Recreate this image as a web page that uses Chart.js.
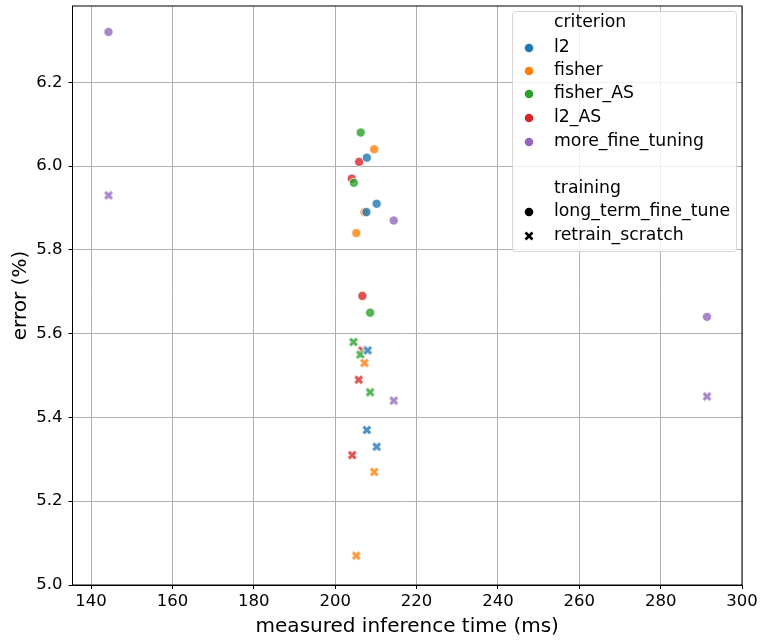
<!DOCTYPE html>
<html><head><meta charset="utf-8">
<script src="https://cdn.jsdelivr.net/npm/chart.js@4/dist/chart.umd.min.js"></script>
<style>html,body{margin:0;padding:0;background:#fff}#wrap{width:761px;height:640px}</style>
</head><body><div id="wrap"><canvas id="c" width="761" height="640"></canvas></div>
<script>
// criterion / training groups
const criteria = ['l2', 'fisher', 'fisher_AS', 'l2_AS', 'more_fine_tuning'];
const trainings = ['long_term_fine_tune', 'retrain_scratch'];
const palette = ['#1f77b4', '#ff7f0e', '#2ca02c', '#d62728', '#9467bd'];

// measured inference time (ms) and error (%), long-term fine-tune
const l2FineTime = [207.8, 210.2, 207.7];
const l2FineErr = [6.02, 5.91, 5.89];
const fisherFineTime = [209.6, 207.2, 205.2];
const fisherFineErr = [6.04, 5.89, 5.84];
const fisherASFineTime = [206.3, 204.6, 208.6];
const fisherASFineErr = [6.08, 5.96, 5.65];
const l2ASFineTime = [205.9, 204.1, 206.7];
const l2ASFineErr = [6.01, 5.97, 5.69];
const moreFineTime = [144.3, 214.4, 291.4];
const moreFineErr = [6.32, 5.87, 5.64];

// retrain from scratch
const l2ScratchTime = [208.0, 207.8, 210.2];
const l2ScratchErr = [5.56, 5.37, 5.33];
const fisherScratchTime = [207.2, 209.6, 205.2];
const fisherScratchErr = [5.53, 5.27, 5.07];
const fisherASScratchTime = [204.5, 206.2, 208.6];
const fisherASScratchErr = [5.58, 5.55, 5.46];
const l2ASScratchTime = [206.7, 205.8, 204.2];
const l2ASScratchErr = [5.56, 5.49, 5.31];
const moreScratchTime = [144.3, 214.4, 291.4];
const moreScratchErr = [5.93, 5.44, 5.45];

// axis ticks
const xTicks = [140, 160, 180, 200, 220, 240, 260, 280, 300];
const yTicks = [5.0, 5.2, 5.4, 5.6, 5.8, 6.0, 6.2];

const FONT = 'DejaVu Sans';
const ALPHA = 0.8;

function rgba(hex, a) {
  const n = parseInt(hex.slice(1), 16);
  return `rgba(${(n >> 16) & 255},${(n >> 8) & 255},${n & 255},${a})`;
}
function pts(xs, ys) { return xs.map((x, i) => ({ x: x, y: ys[i] })); }

// filled "X" marker with a white edge
function xMarker(color, size) {
  const c = document.createElement('canvas');
  const s = size + 4;
  c.width = s; c.height = s;
  const g = c.getContext('2d');
  const a = 2, b = s - 2;
  g.lineCap = 'butt';
  g.strokeStyle = '#fff'; g.lineWidth = 4.4;
  g.beginPath(); g.moveTo(a, a); g.lineTo(b, b); g.moveTo(b, a); g.lineTo(a, b); g.stroke();
  g.strokeStyle = color; g.lineWidth = 2.9;
  g.beginPath(); g.moveTo(a + 0.6, a + 0.6); g.lineTo(b - 0.6, b - 0.6); g.moveTo(b - 0.6, a + 0.6); g.lineTo(a + 0.6, b - 0.6); g.stroke();
  return c;
}

const fineSeries = [
  [l2FineTime, l2FineErr], [fisherFineTime, fisherFineErr], [fisherASFineTime, fisherASFineErr],
  [l2ASFineTime, l2ASFineErr], [moreFineTime, moreFineErr]
];
const scratchSeries = [
  [l2ScratchTime, l2ScratchErr], [fisherScratchTime, fisherScratchErr], [fisherASScratchTime, fisherASScratchErr],
  [l2ASScratchTime, l2ASScratchErr], [moreScratchTime, moreScratchErr]
];

const datasets = [];
criteria.forEach((name, i) => {
  datasets.push({
    label: name + ' / ' + trainings[0],
    data: pts(fineSeries[i][0], fineSeries[i][1]),
    pointStyle: 'circle', pointRadius: 4.6, pointBorderWidth: 0.8,
    backgroundColor: rgba(palette[i], ALPHA), borderColor: '#ffffff'
  });
});
criteria.forEach((name, i) => {
  datasets.push({
    label: name + ' / ' + trainings[1],
    data: pts(scratchSeries[i][0], scratchSeries[i][1]),
    pointStyle: xMarker(rgba(palette[i], ALPHA), 8), pointRadius: 5,
    backgroundColor: rgba(palette[i], ALPHA), borderColor: rgba(palette[i], ALPHA)
  });
});

// black frame around the plotting area
const framePlugin = {
  id: 'frame',
  afterDatasetsDraw(chart) {
    const { ctx, chartArea: a } = chart;
    ctx.save();
    ctx.strokeStyle = '#000'; ctx.lineWidth = 1;
    ctx.strokeRect(a.left, a.top, a.right - a.left, a.bottom - a.top);
    ctx.restore();
  }
};

// two-part legend: colour by criterion, marker by training
const legendPlugin = {
  id: 'hueStyleLegend',
  afterDraw(chart) {
    const ctx = chart.ctx;
    const L = 512, T = 11, R = 736, B = 251;
    ctx.save();
    ctx.beginPath();
    if (ctx.roundRect) ctx.roundRect(L + 0.5, T + 0.5, R - L, B - T, 3); else ctx.rect(L + 0.5, T + 0.5, R - L, B - T);
    ctx.fillStyle = 'rgba(255,255,255,0.8)';
    ctx.fill();
    ctx.strokeStyle = '#d6d6d6'; ctx.lineWidth = 1; ctx.stroke();

    ctx.font = `17.3px "${FONT}"`;
    ctx.fillStyle = '#000';
    ctx.textBaseline = 'middle';
    ctx.textAlign = 'left';
    const mx = 529, tx = 554;
    ctx.fillText('criterion', tx, 23);
    const rows = [48, 71, 94, 118, 142];
    criteria.forEach((name, i) => {
      ctx.beginPath();
      ctx.arc(mx, rows[i], 4.3, 0, Math.PI * 2);
      ctx.fillStyle = palette[i];
      ctx.fill();
      ctx.fillStyle = '#000';
      ctx.fillText(name, tx, rows[i]);
    });
    ctx.fillText('training', tx, 189);
    ctx.beginPath(); ctx.arc(mx, 212, 4.3, 0, Math.PI * 2); ctx.fillStyle = '#000'; ctx.fill();
    ctx.fillText(trainings[0], tx, 212);
    ctx.strokeStyle = '#000'; ctx.lineWidth = 2.6;
    ctx.beginPath();
    ctx.moveTo(mx - 3.5, 236 - 3.5); ctx.lineTo(mx + 3.5, 236 + 3.5);
    ctx.moveTo(mx + 3.5, 236 - 3.5); ctx.lineTo(mx - 3.5, 236 + 3.5);
    ctx.stroke();
    ctx.fillText(trainings[1], tx, 236);
    ctx.restore();
  }
};

const tickFont = { family: FONT, size: 16.5 };
const titleFont = { family: FONT, size: 20 };

new Chart(document.getElementById('c'), {
  type: 'scatter',
  data: { datasets },
  plugins: [framePlugin, legendPlugin],
  options: {
    responsive: false,
    animation: false,
    devicePixelRatio: 1,
    layout: { padding: { top: 4.5, right: 19, left: 0, bottom: 0 } },
    plugins: { legend: { display: false }, tooltip: { enabled: false } },
    scales: {
      x: {
        type: 'linear', min: 135.45, max: 300,
        afterBuildTicks: s => { s.ticks = xTicks.map(v => ({ value: v })); },
        afterFit: s => { s.height = 55; s.paddingLeft = 0; s.paddingRight = 0; },
        grid: { color: '#b0b0b0', lineWidth: 1, tickColor: '#000', tickLength: 4 },
        border: { color: '#000', width: 1 },
        ticks: { color: '#000', font: tickFont, padding: 3, maxRotation: 0, autoSkip: false, callback: v => String(v) },
        title: { display: true, text: 'measured inference time (ms)', color: '#000', font: titleFont, padding: { top: 0, bottom: 1 } }
      },
      y: {
        type: 'linear', min: 5.0, max: 6.382,
        afterBuildTicks: s => { s.ticks = yTicks.map(v => ({ value: v })); },
        afterFit: s => { s.width = 72.5; s.paddingTop = 0; s.paddingBottom = 0; },
        grid: { color: '#b0b0b0', lineWidth: 1, tickColor: '#000', tickLength: 4 },
        border: { color: '#000', width: 1 },
        ticks: { color: '#000', font: tickFont, padding: 6, autoSkip: false, callback: v => Number(v).toFixed(1) },
        title: { display: true, text: 'error (%)', color: '#000', font: titleFont, padding: { top: 9, bottom: 0 } }
      }
    }
  }
});
</script>
</body></html>
